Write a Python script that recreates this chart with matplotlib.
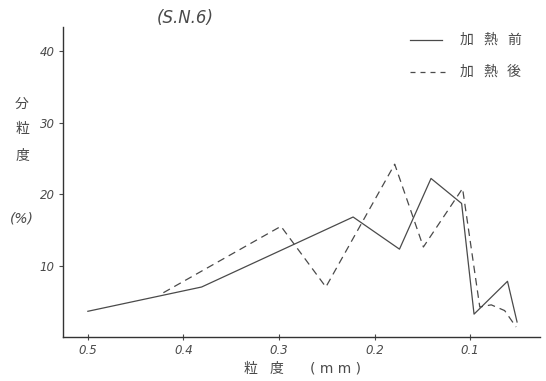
import numpy as np
import matplotlib.pyplot as plt

plt.rcParams['font.family'] = ['Noto Sans CJK JP', 'DejaVu Sans']

# grain size (mm) and fraction (%)
size_before = [0.5, 0.381, 0.2225, 0.174, 0.141, 0.109, 0.096, 0.061, 0.051]
pct_before = [3.6, 7.0, 16.8, 12.3, 22.2, 18.7, 3.2, 7.8, 2.1]

size_after = [0.421, 0.298, 0.251, 0.179, 0.149, 0.108, 0.090, 0.078, 0.064, 0.052]
pct_after = [6.2, 15.5, 7.0, 24.2, 12.6, 20.8, 4.2, 4.5, 3.7, 1.4]

xticks = [0.5, 0.4, 0.3, 0.2, 0.1]
xticklabels = ['0.5', '0.4', '0.3', '0.2', '0.1']
yticks = [10, 20, 30, 40]

ink = '#4a4a4a'

fig = plt.figure(figsize=(5.46, 3.81), dpi=100)
ax = fig.add_axes([0.1154, 0.1155, 0.8736, 0.8135])

ax.plot(size_before, pct_before, '-', color=ink, lw=0.9)
ax.plot(size_after, pct_after, '--', color=ink, lw=0.9, dashes=(6, 4))

ax.set_xlim(0.526, 0.027)
ax.set_ylim(0, 43.4)

for s in ['top', 'right']:
    ax.spines[s].set_visible(False)
for s in ['left', 'bottom']:
    ax.spines[s].set_color('#333333')
    ax.spines[s].set_linewidth(1.0)

ax.set_xticks(xticks)
ax.set_xticklabels(xticklabels, fontstyle='italic', family=['DejaVu Sans'])
ax.set_yticks(yticks)
ax.set_yticklabels([str(v) for v in yticks], fontstyle='italic', family=['DejaVu Sans'])
ax.tick_params(axis='x', direction='inout', length=4, width=0.8, colors=ink, labelsize=8.5, pad=3)
ax.tick_params(axis='y', direction='out', length=3, width=0.8, colors=ink, labelsize=8.5, pad=3)

# title
fig.text(185 / 546, 1 - 18 / 381, '(S.N.6)', fontsize=12, fontstyle='italic', color=ink,
         ha='center', va='center', family=['DejaVu Sans'])

# vertical y label
for ch, yp in zip(['分', '粒', '度'], [104, 129, 156]):
    fig.text(22 / 546, 1 - yp / 381, ch, fontsize=10, color=ink, ha='center', va='center')
fig.text(22 / 546, 1 - 218 / 381, '(%)', fontsize=10, fontstyle='italic', color=ink,
         ha='center', va='center', family=['DejaVu Sans'])

# x label
fig.text(250 / 546, 1 - 369 / 381, '粒', fontsize=10, color=ink, ha='center', va='center')
fig.text(277 / 546, 1 - 369 / 381, '度', fontsize=10, color=ink, ha='center', va='center')
fig.text(336 / 546, 1 - 369 / 381, '( m m )', fontsize=10, color=ink, ha='center', va='center',
         family=['DejaVu Sans'])

# legend drawn by hand
fig.add_artist(plt.Line2D([410 / 546, 442 / 546], [1 - 40 / 381] * 2, color=ink, lw=0.9))
fig.add_artist(plt.Line2D([410 / 546, 445 / 546], [1 - 72 / 381] * 2, color=ink, lw=0.9,
                          ls='--', dashes=(4, 4)))
for row, yp in zip([['加', '熱', '前'], ['加', '熱', '後']], [40, 72]):
    for ch, xp in zip(row, [467, 490, 514]):
        fig.text(xp / 546, 1 - yp / 381, ch, fontsize=10, color=ink, ha='center', va='center')

fig.savefig('out.png', dpi=100)
